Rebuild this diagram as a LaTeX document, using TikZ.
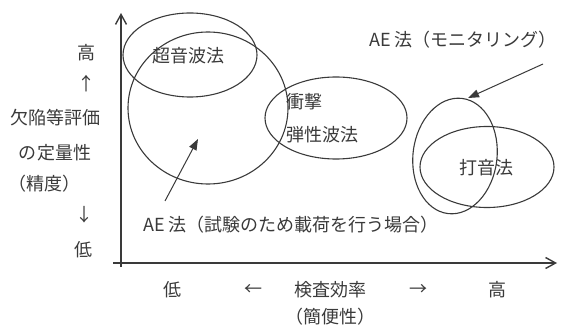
\documentclass[tikz,border=0pt]{standalone}
\usepackage{fontspec}
\setmainfont{Noto Sans CJK JP}
\usetikzlibrary{arrows.meta,shapes.geometric}
\definecolor{ink}{HTML}{3A3A3A}
\tikzset{
  oval/.style={draw=ink, line width=1.1pt, ellipse, inner sep=0pt},
  lbl/.style={text=ink, font=\fontsize{18}{20}\selectfont, inner sep=0pt},
  axis/.style={draw=ink, line width=1.8pt, -{Straight Barb[length=10pt,width=11pt,line width=1.4pt]}},
  ptr/.style={draw=ink, line width=1pt, -{Triangle[length=11pt,width=8pt]}}
}
\begin{document}
\begin{tikzpicture}[x=1pt,y=-1pt]
\useasboundingbox (0,0) rectangle (562,326);
% axes
\coordinate (ybot) at (121,267);
\coordinate (ytop) at (121,13);
\coordinate (xend) at (557,263);
\coordinate (ostart) at (113,263);
\draw[axis] (ybot) -- (ytop);
\draw[axis] (ostart) -- (xend);
% ellipses
\node[oval, minimum width=134pt, minimum height=84pt] (us) at (190,55) {};
\node[oval, minimum width=160pt, minimum height=152pt] (aeload) at (208,108) {};
\node[oval, minimum width=142pt, minimum height=82pt] (imp) at (336,118) {};
\node[oval, minimum width=84pt, minimum height=116pt, rotate=-7] (aemon) at (455,156) {};
\node[oval, minimum width=134pt, minimum height=81pt] (tap) at (487,167) {};
% texts
\node[lbl] (tus) at (188,56) {超音波法};
\node[lbl, anchor=west] (timp1) at (286,102) {衝撃};
\node[lbl, anchor=west] (timp2) at (286,135) {弾性波法};
\node[lbl, anchor=west] (taemon) at (369,40) {AE 法（モニタリング）};
\node[lbl] (ttap) at (486,168) {打音法};
\node[lbl, anchor=west] (taeload) at (143,225) {AE 法（試験のため載荷を行う場合）};
% arrows
\coordinate (a1s) at (543,64);
\coordinate (a1e) at (468,98);
\draw[ptr] (a1s) -- (a1e);
\coordinate (a2s) at (165,201);
\coordinate (a2e) at (198,139);
\draw[ptr] (a2s) -- (a2e);
% y labels
\node[lbl] (yh) at (86,53) {高};
\node[lbl] (yu) at (86,84) {↑};
\node[lbl] (y1) at (55,118) {欠陥等評価};
\node[lbl] (y2) at (55,153) {の定量性};
\node[lbl] (y3) at (45,184) {（精度）};
\node[lbl] (yd) at (84,215) {↓};
\node[lbl] (yl) at (83,250) {低};
% x labels
\node[lbl] (xl) at (172,290) {低};
\node[lbl] (xa1) at (253,290) {←};
\node[lbl] (xm) at (330,290) {検査効率};
\node[lbl] (xa2) at (418,290) {→};
\node[lbl] (xh) at (497,290) {高};
\node[lbl] (xm2) at (330,317) {（簡便性）};
\end{tikzpicture}
\end{document}
